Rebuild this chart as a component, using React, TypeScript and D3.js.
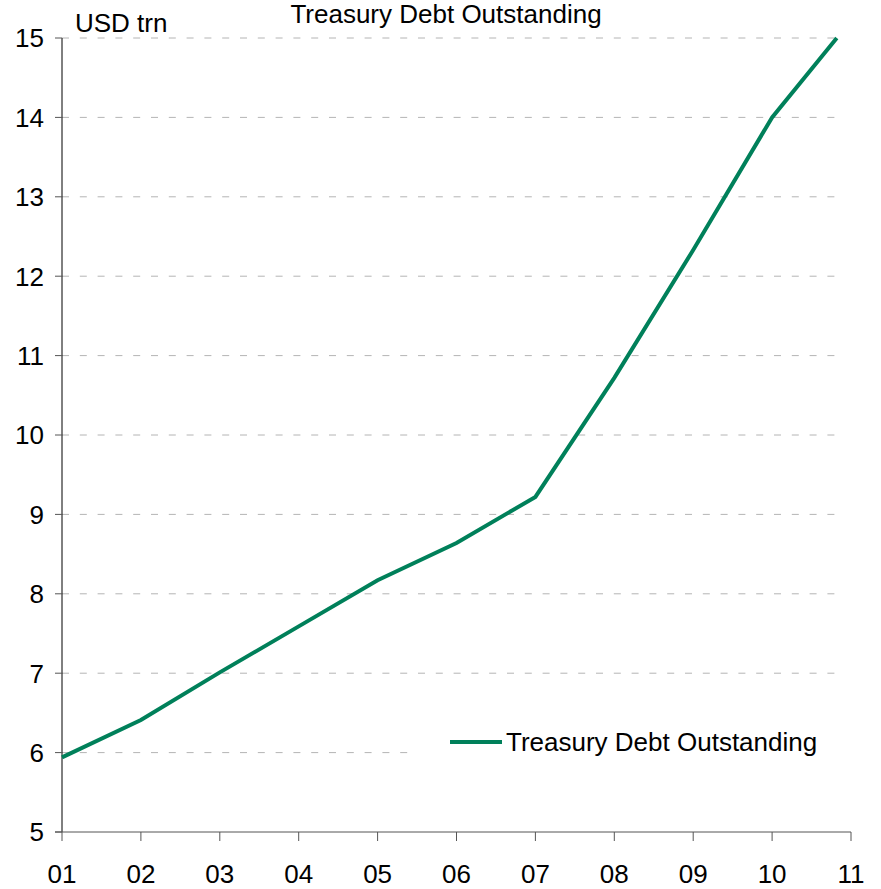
import React from "react";
import * as d3 from "d3";

const years = [2001, 2002, 2003, 2004, 2005, 2006, 2007, 2008, 2009, 2010, 2010.82];
const debt = [5.94, 6.41, 7.01, 7.59, 8.17, 8.64, 9.22, 10.72, 12.33, 14.0, 15.0];
const xTickValues = [2001, 2002, 2003, 2004, 2005, 2006, 2007, 2008, 2009, 2010, 2011];
const xTickLabels = ["01", "02", "03", "04", "05", "06", "07", "08", "09", "10", "11"];
const yTicks = [5, 6, 7, 8, 9, 10, 11, 12, 13, 14, 15];
const title = "Treasury Debt Outstanding";
const unitLabel = "USD trn";
const seriesName = "Treasury Debt Outstanding";

const W = 881;
const H = 889;
const FONT = "'Liberation Sans', Arial, sans-serif";
const GREEN = "#00805a";

export default function App() {
  const x = d3.scaleLinear().domain([2001, 2011]).range([62, 851]);
  const y = d3.scaleLinear().domain([5, 15]).range([832, 38]);
  const line = d3
    .line<number>()
    .x((_, i) => x(years[i]))
    .y((d) => y(d));
  const fs = 26;
  return (
    <svg
      width={W}
      height={H}
      style={{ position: "absolute", left: 0, top: 0, background: "#fff" }}
      fontFamily={FONT}
    >
      <rect x={0} y={0} width={W} height={H} fill="#fff" />
      {/* gridlines */}
      {yTicks
        .filter((t) => t > 5)
        .map((t) => (
          <line
            key={"g" + t}
            x1={62}
            x2={840}
            y1={y(t)}
            y2={y(t)}
            stroke="#b4b4b4"
            strokeWidth={1}
            strokeDasharray="7,10.8"
          />
        ))}
      {/* legend box (opaque) */}
      <rect x={410} y={690} width={440} height={110} fill="#fff" />
      {/* y axis */}
      <line x1={62} x2={62} y1={38} y2={832} stroke="#000" strokeWidth={1} />
      {yTicks.map((t) => (
        <g key={"y" + t}>
          <line x1={55} x2={62} y1={y(t)} y2={y(t)} stroke="#555" strokeWidth={1} />
          <text x={44} y={y(t)} dy="0.36em" textAnchor="end" fontSize={fs} fill="#000">
            {t}
          </text>
        </g>
      ))}
      {/* x axis */}
      <line x1={55} x2={851} y1={832} y2={832} stroke="#555" strokeWidth={1} />
      {xTickValues.map((t, i) => (
        <g key={"x" + t}>
          <line x1={x(t)} x2={x(t)} y1={832} y2={841} stroke="#555" strokeWidth={1} />
          <text x={x(t)} y={883} textAnchor="middle" fontSize={fs} fill="#000">
            {xTickLabels[i]}
          </text>
        </g>
      ))}
      {/* series */}
      <path d={line(debt) || ""} fill="none" stroke={GREEN} strokeWidth={4} strokeLinejoin="miter" />
      {/* title */}
      <text x={446} y={23} textAnchor="middle" fontSize={fs} fill="#000">
        {title}
      </text>
      <text x={75} y={32} fontSize={fs} fill="#000">
        {unitLabel}
      </text>
      {/* legend */}
      <line x1={450} x2={502} y1={742} y2={742} stroke={GREEN} strokeWidth={4} />
      <text x={506} y={751} fontSize={fs} fill="#000">
        {seriesName}
      </text>
    </svg>
  );
}
